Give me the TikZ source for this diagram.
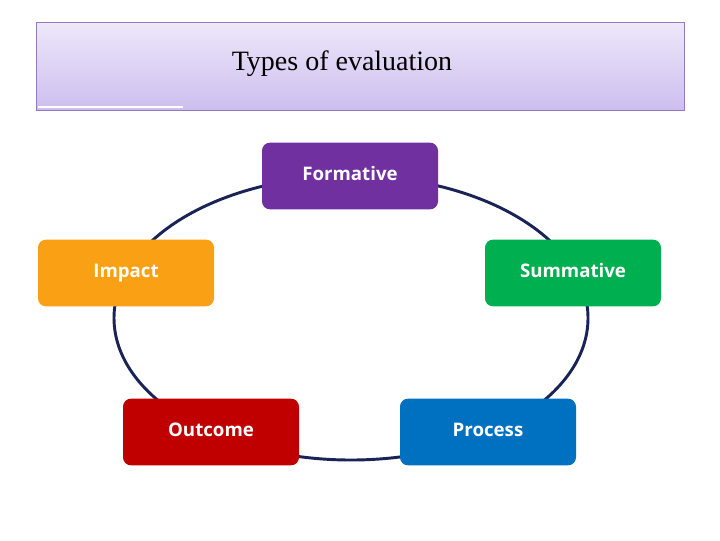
\documentclass[tikz,border=0pt]{standalone}
\usepackage{fontspec}
\setmainfont{Liberation Serif}
\newfontfamily\boxfont{Open Sans}
\begin{document}
\begin{tikzpicture}[x=0.75pt,y=-0.75pt,
  stage/.style={draw=none,rounded corners=6pt,minimum width=132pt,minimum height=50pt,text height=10pt,text depth=3pt,text=white,font=\boxfont\bfseries\fontsize{14}{16}\selectfont}]
\useasboundingbox (0,0) rectangle (720,540);
\fill[white] (0,0) rectangle (720,540);
\definecolor{ttop}{RGB}{238,232,250}
\definecolor{tbot}{RGB}{205,190,238}
\shade[top color=ttop,bottom color=tbot,draw={rgb,255:red,150;green,120;blue,190},line width=0.6pt] (36,22) rectangle (684,110);
\draw[white,line width=1pt] (38,107) -- (183,107);
\node (title) at (342,64) {\fontsize{21}{24}\selectfont Types of evaluation};
\draw[color={rgb,255:red,25;green,35;blue,85},line width=2.2pt] (351,318) ellipse [x radius=237, y radius=142];
\definecolor{cf}{RGB}{112,48,160}
\definecolor{cs}{RGB}{0,176,80}
\definecolor{cp}{RGB}{0,112,192}
\definecolor{co}{RGB}{192,0,0}
\definecolor{ci}{RGB}{250,160,20}
\node[stage,fill=cf] (formative) at (350,176) {Formative};
\node[stage,fill=cs] (summative) at (573,273) {Summative};
\node[stage,fill=cp] (process) at (488,432) {Process};
\node[stage,fill=co] (outcome) at (211,432) {Outcome};
\node[stage,fill=ci] (impact) at (126,273) {Impact};
\end{tikzpicture}
\end{document}
